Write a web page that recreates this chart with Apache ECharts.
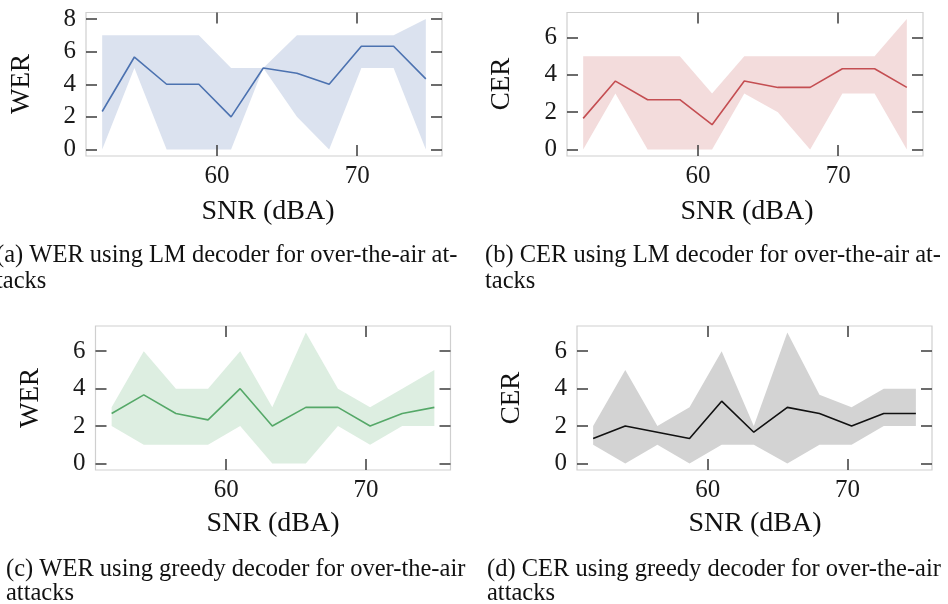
<!DOCTYPE html>
<html>
<head>
<meta charset="utf-8">
<script src="https://cdn.jsdelivr.net/npm/echarts@6/dist/echarts.min.js"></script>
<style>html,body{margin:0;padding:0;background:#fff;}#c{width:948px;height:604px;}</style>
</head>
<body>
<div id="c"></div>
<script>
// ---- data ----
const snr = [51.8, 54.1, 56.4, 58.7, 61.0, 63.3, 65.7, 68.0, 70.3, 72.6, 74.9];

const werLmMean = [2.33, 5.67, 4, 4, 2, 5, 4.67, 4, 6.33, 6.33, 4.33];
const werLmLow  = [0, 5, 0, 0, 0, 5, 2, 0, 5, 5, 0];
const werLmHigh = [7, 7, 7, 7, 5, 5, 7, 7, 7, 7, 8];

const cerLmMean = [1.67, 3.67, 2.67, 2.67, 1.33, 3.67, 3.33, 3.33, 4.33, 4.33, 3.33];
const cerLmLow  = [0, 3, 0, 0, 0, 3, 2, 0, 3, 3, 0];
const cerLmHigh = [5, 5, 5, 5, 3, 5, 5, 5, 5, 5, 7];

const werGrMean = [2.67, 3.67, 2.67, 2.33, 4, 2, 3, 3, 2, 2.67, 3];
const werGrLow  = [2, 1, 1, 1, 2, 0, 0, 2, 1, 2, 2];
const werGrHigh = [3, 6, 4, 4, 6, 3, 7, 4, 3, 4, 5];

const cerGrMean = [1.33, 2, 1.67, 1.33, 3.33, 1.67, 3, 2.67, 2, 2.67, 2.67];
const cerGrLow  = [1, 0, 1, 0, 1, 1, 0, 1, 1, 2, 2];
const cerGrHigh = [2, 5, 2, 3, 6, 2, 7, 3.67, 3, 4, 4];

const xTicks = [60, 70];
const yTicksA = [0, 2, 4, 6, 8];
const yTicksB = [0, 2, 4, 6];

const xTitle = 'SNR (dBA)';
const yTitles = ['WER', 'CER', 'WER', 'CER'];
const captions = [
  ['(a) WER using LM decoder for over-the-air at-', 'tacks'],
  ['(b) CER using LM decoder for over-the-air at-', 'tacks'],
  ['(c) WER using greedy decoder for over-the-air', 'attacks'],
  ['(d) CER using greedy decoder for over-the-air', 'attacks']
];

// ---- layout / style ----
const SERIF = '"Liberation Serif", "Times New Roman", serif';
const panels = [
  {mean: werLmMean, low: werLmLow, high: werLmHigh, yt: yTicksA, ymin: -0.4, ymax: 8.4,
   grid: {left: 86, top: 12.5, width: 356, height: 143.5}, line: '#4c72b0', fill: '#dbe2ef',
   yName: [22, 84], xName: [268, 212], cap: [-4, 256, 282]},
  {mean: cerLmMean, low: cerLmLow, high: cerLmHigh, yt: yTicksB, ymin: -0.35, ymax: 7.35,
   grid: {left: 567, top: 12.5, width: 356, height: 143.5}, line: '#c44e52', fill: '#f3dcdc',
   yName: [502, 84], xName: [747, 212], cap: [485, 256, 282]},
  {mean: werGrMean, low: werGrLow, high: werGrHigh, yt: yTicksB, ymin: -0.35, ymax: 7.35,
   grid: {left: 95.5, top: 326, width: 355, height: 144}, line: '#55a868', fill: '#ddeee1',
   yName: [31, 398], xName: [273, 524], cap: [6, 570, 594]},
  {mean: cerGrMean, low: cerGrLow, high: cerGrHigh, yt: yTicksB, ymin: -0.35, ymax: 7.35,
   grid: {left: 577, top: 326, width: 355, height: 144}, line: '#111111', fill: '#d3d3d3',
   yName: [512, 398], xName: [755, 524], cap: [487, 570, 594]}
];

const XMIN = 50.645, XMAX = 76.055;
const tickStyle = {color: '#3c3c3c', width: 1.5};
const grids = [], xAxes = [], yAxes = [], series = [], graphics = [];

function bandRenderer(fill) {
  return function (params, api) {
    if (params.dataIndexInside !== 0) return null;
    const n = params.dataInsideLength;
    const top = [], bot = [];
    for (let j = 0; j < n; j++) {
      const x = api.value(0, j);
      bot.push(api.coord([x, api.value(1, j)]));
      top.push(api.coord([x, api.value(2, j)]));
    }
    const pts = bot.concat(top.reverse());
    return {type: 'polygon', shape: {points: pts}, style: {fill: fill, stroke: null}, silent: true};
  };
}

function axisBase(extra) {
  return Object.assign({type: 'value', z: 10, axisLine: {show: false, onZero: false}, splitLine: {show: false}}, extra);
}

panels.forEach((p, g) => {
  grids.push(Object.assign({show: true, borderColor: '#cfcfcf', borderWidth: 1.2, backgroundColor: 'transparent'}, p.grid));
  xAxes.push(axisBase({gridIndex: g, position: 'bottom', min: XMIN, max: XMAX,
    axisTick: {show: true, inside: true, length: 11, customValues: xTicks, lineStyle: tickStyle},
    axisLabel: {show: true, customValues: xTicks, margin: 8, color: '#1a1a1a', fontFamily: SERIF, fontSize: 25}}));
  xAxes.push(axisBase({gridIndex: g, position: 'top', min: XMIN, max: XMAX,
    axisTick: {show: true, inside: true, length: 11, customValues: xTicks, lineStyle: tickStyle},
    axisLabel: {show: false}}));
  yAxes.push(axisBase({gridIndex: g, position: 'left', min: p.ymin, max: p.ymax,
    axisTick: {show: true, inside: true, length: 11, customValues: p.yt, lineStyle: tickStyle},
    axisLabel: {show: true, customValues: p.yt, margin: 10, color: '#1a1a1a', fontFamily: SERIF, fontSize: 25}}));
  yAxes.push(axisBase({gridIndex: g, position: 'right', min: p.ymin, max: p.ymax,
    axisTick: {show: true, inside: true, length: 11, customValues: p.yt, lineStyle: tickStyle},
    axisLabel: {show: false}}));

  const xi = 2 * g, yi = 2 * g;
  series.push({type: 'custom', xAxisIndex: xi, yAxisIndex: yi, silent: true, z: 1,
    renderItem: bandRenderer(p.fill),
    encode: {x: 0, y: [1, 2]},
    data: snr.map((x, i) => [x, p.low[i], p.high[i]])});
  series.push({type: 'line', xAxisIndex: xi, yAxisIndex: yi, symbol: 'none', silent: true,
    lineStyle: {color: p.line, width: 1.6}, data: snr.map((x, i) => [x, p.mean[i]]), z: 3});

  graphics.push({type: 'text', x: p.yName[0], y: p.yName[1], rotation: Math.PI / 2,
    style: {text: yTitles[g], fontFamily: SERIF, fontSize: 27, fill: '#111', align: 'center', verticalAlign: 'middle'}});
  graphics.push({type: 'text', x: p.xName[0], y: p.xName[1],
    style: {text: xTitle, fontFamily: SERIF, fontSize: 28, fill: '#111', align: 'center', verticalAlign: 'middle'}});
  graphics.push({type: 'text', x: p.cap[0], y: p.cap[1],
    style: {text: captions[g][0], fontFamily: SERIF, fontSize: 24.5, fill: '#111', align: 'left', verticalAlign: 'middle'}});
  graphics.push({type: 'text', x: p.cap[0], y: p.cap[2],
    style: {text: captions[g][1], fontFamily: SERIF, fontSize: 24.5, fill: '#111', align: 'left', verticalAlign: 'middle'}});
});

const chart = echarts.init(document.getElementById('c'), null, {renderer: 'canvas'});
chart.setOption({
  animation: false,
  backgroundColor: '#ffffff',
  grid: grids, xAxis: xAxes, yAxis: yAxes, series: series, graphic: graphics
});
</script>
</body>
</html>
